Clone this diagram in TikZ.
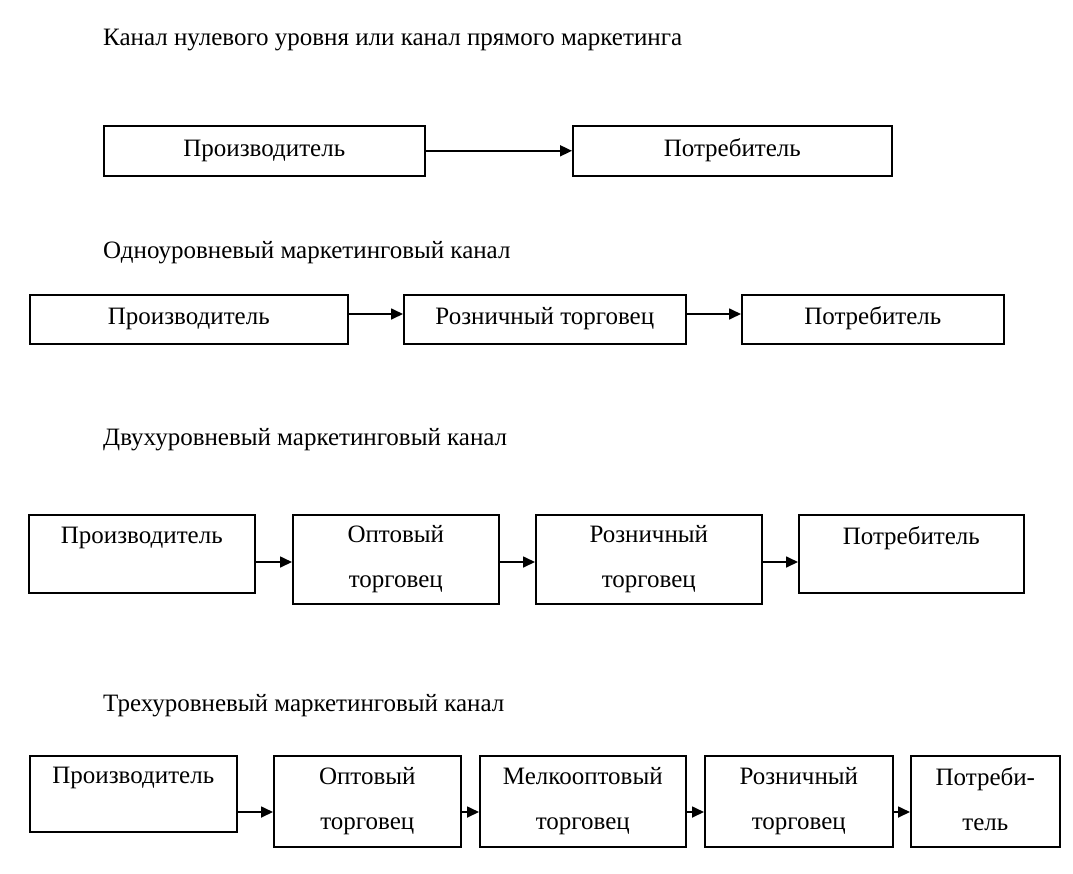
\documentclass[tikz,border=0pt]{standalone}
\usepackage{fontspec}
\setmainfont{Liberation Serif}
\usetikzlibrary{arrows.meta}

\begin{document}
\begin{tikzpicture}[x=1pt, y=-1pt,
        box/.style = {draw, line width=1.6pt, inner sep=0pt, anchor=north west, align=center, font=\fontsize{25}{45}\selectfont},
        oneline/.style = {text height=17pt, text depth=6pt},
        title/.style = {inner sep=0pt, anchor=base west, font=\fontsize{25}{30}\selectfont},
        arr/.style = {line width=1.7pt, -{Triangle[length=12pt,width=11pt]}}]
            \useasboundingbox (0,0) rectangle (1073,873);
            % channel 0
            \node[title] (t1) at (103,45) {Канал нулевого уровня или канал прямого маркетинга};
            \node[box, oneline, minimum width=321pt, minimum height=50pt] (prod1) at (103,125) {Производитель};
            \node[box, oneline, minimum width=319pt, minimum height=50pt] (cons1) at (572,125) {Потребитель};
            \draw[arr] (prod1) -- (cons1);
            % channel 1
            \node[title] (t2) at (103,258) {Одноуровневый маркетинговый канал};
            \node[box, oneline, minimum width=318pt, minimum height=49pt] (prod2) at (29,294) {Производитель};
            \node[box, oneline, minimum width=282pt, minimum height=49pt] (retail2) at (403,294) {Розничный торговец};
            \node[box, oneline, minimum width=262pt, minimum height=49pt] (cons2) at (741,294) {Потребитель};
            \coordinate (lvl2) at (0,314);
            \draw[arr] (prod2.east |- lvl2) -- (retail2.west |- lvl2);
            \draw[arr] (retail2.east |- lvl2) -- (cons2.west |- lvl2);
            % channel 2
            \node[title] (t3) at (103,445) {Двухуровневый маркетинговый канал};
            \node[box, minimum width=226pt, minimum height=78pt] (prod3) at (28,514) {Производитель\\[-8pt]\mbox{}};
            \node[box, minimum width=206pt, minimum height=89pt] (whole3) at (292,514) {Оптовый\\торговец};
            \node[box, minimum width=226pt, minimum height=89pt] (retail3) at (535,514) {Розничный\\торговец};
            \node[box, minimum width=225pt, minimum height=78pt] (cons3) at (798,514) {Потребитель\\[-8pt]\mbox{}};
            \coordinate (lvl3) at (0,562);
            \draw[arr] (prod3.east |- lvl3) -- (whole3.west |- lvl3);
            \draw[arr] (whole3.east |- lvl3) -- (retail3.west |- lvl3);
            \draw[arr] (retail3.east |- lvl3) -- (cons3.west |- lvl3);
            % channel 3
            \node[title] (t4) at (103,711) {Трехуровневый маркетинговый канал};
            \node[box, minimum width=207pt, minimum height=76pt] (prod4) at (29,755) {Производитель\\[-8pt]\mbox{}};
            \node[box, minimum width=187pt, minimum height=91pt] (whole4) at (273,755) {Оптовый\\торговец};
            \node[box, minimum width=206pt, minimum height=91pt] (small4) at (479,755) {Мелкооптовый\\торговец};
            \node[box, minimum width=188pt, minimum height=91pt] (retail4) at (704,755) {Розничный\\торговец};
            \node[box, minimum width=149pt, minimum height=91pt] (cons4) at (910,755) {Потреби-\\тель\rule[-5.5pt]{0pt}{5.5pt}};
            \coordinate (lvl4) at (0,812);
            \draw[arr] (prod4.east |- lvl4) -- (whole4.west |- lvl4);
            \draw[arr] (whole4.east |- lvl4) -- (small4.west |- lvl4);
            \draw[arr] (small4.east |- lvl4) -- (retail4.west |- lvl4);
            \draw[arr] (retail4.east |- lvl4) -- (cons4.west |- lvl4);
        \end{tikzpicture}
\end{document}
